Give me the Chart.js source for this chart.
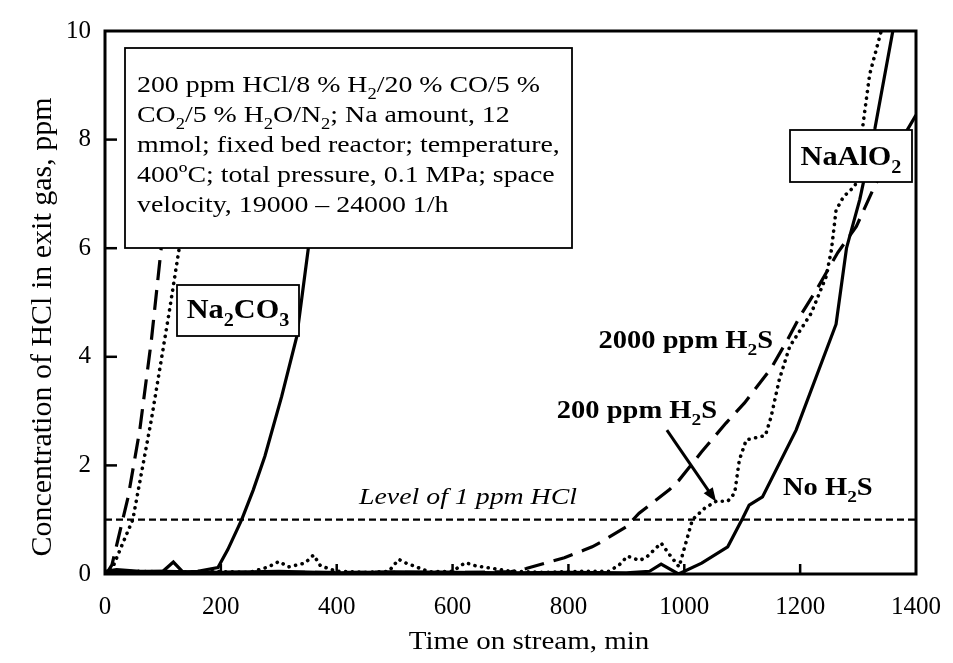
<!DOCTYPE html>
<html><head><meta charset="utf-8">
<script src="https://cdn.jsdelivr.net/npm/chart.js@4.4.0/dist/chart.umd.min.js"></script>
<style>html,body{margin:0;padding:0;background:#fff;}#wrap{width:953px;height:663px;}</style>
</head><body><div id="wrap"><canvas id="c" width="953" height="663"></canvas></div>
<script>
// ---- tick values ----
const xTickValues = [0, 200, 400, 600, 800, 1000, 1200, 1400];
const yTickValues = [0, 2, 4, 6, 8, 10];

// ---- Na2CO3 series ----
const na2co3NoH2S_t = [0, 20, 60, 100, 118, 135, 160, 195, 212, 236, 256, 276, 305, 331, 351, 390];
const na2co3NoH2S_c = [0.05, 0.08, 0.05, 0.05, 0.22, 0.03, 0.05, 0.12, 0.45, 1.0, 1.55, 2.17, 3.27, 4.37, 6.0, 9.2];
const na2co3_200_t = [0, 6, 14, 30, 48, 80, 112, 131, 170];
const na2co3_200_c = [0.02, 0.03, 0.14, 0.55, 1.0, 2.84, 4.9, 6.2, 9.0];
const na2co3_2000_t = [0, 4, 12, 40, 60, 80, 97, 125];
const na2co3_2000_c = [0.02, 0.03, 0.17, 1.42, 2.65, 4.3, 6.0, 9.0];

// ---- NaAlO2 series ----
const naalo2NoH2S_t = [0, 100, 200, 300, 400, 500, 600, 700, 800, 900, 940, 960, 990, 1030, 1075, 1101, 1112, 1135, 1193, 1262, 1280, 1303, 1329, 1360, 1375];
const naalo2NoH2S_c = [0.03, 0.05, 0.03, 0.05, 0.02, 0.04, 0.03, 0.02, 0.03, 0.02, 0.05, 0.18, 0.0, 0.2, 0.5, 1.03, 1.27, 1.42, 2.65, 4.6, 6.0, 6.9, 8.2, 10.0, 10.8];
const naalo2_200_t = [0, 60, 120, 180, 250, 282, 300, 317, 345, 360, 372, 400, 450, 490, 507, 520, 560, 600, 622, 640, 700, 760, 820, 870, 888, 902, 922, 934, 960, 975, 991, 1014, 1035, 1055, 1075, 1087, 1095, 1107, 1140, 1150, 1164, 1182, 1219, 1245, 1254, 1262, 1275, 1295, 1310, 1320, 1340, 1355];
const naalo2_200_c = [0.03, 0.05, 0.03, 0.05, 0.03, 0.13, 0.23, 0.13, 0.2, 0.35, 0.15, 0.05, 0.03, 0.05, 0.27, 0.2, 0.04, 0.05, 0.21, 0.15, 0.05, 0.03, 0.05, 0.05, 0.17, 0.33, 0.25, 0.3, 0.57, 0.35, 0.13, 1.0, 1.21, 1.34, 1.34, 1.49, 2.1, 2.47, 2.55, 2.9, 3.58, 4.19, 4.8, 5.48, 5.97, 6.7, 6.95, 7.15, 8.4, 9.2, 10.0, 10.6];
const naalo2_2000_t = [0, 200, 400, 600, 700, 727, 760, 793, 827, 841, 858, 900, 922, 950, 974, 991, 1030, 1072, 1104, 1150, 1178, 1200, 1228, 1265, 1297, 1331, 1400];
const naalo2_2000_c = [0.03, 0.03, 0.03, 0.03, 0.04, 0.1, 0.2, 0.3, 0.44, 0.5, 0.6, 0.87, 1.12, 1.35, 1.55, 1.73, 2.25, 2.78, 3.15, 3.79, 4.31, 4.75, 5.23, 5.92, 6.4, 7.2, 8.45];

// ---- reference level ----
const levelT = [0, 1400];
const levelC = [1, 1];

// ---- texts ----
const conditionLines = [
  "200 ppm HCl/8 % H_2/20 % CO/5 %",
  "CO_2/5 % H_2O/N_2; Na amount, 12",
  "mmol; fixed bed reactor; temperature,",
  "400ºC; total pressure, 0.1 MPa; space",
  "velocity, 19000 – 24000 1/h"
];
const xTitle = "Time on stream, min";
const yTitle = "Concentration of HCl in exit gas, ppm";

function pts(t, c) { return t.map((v, i) => ({ x: v, y: c[i] })); }

const SERIF = "'Liberation Serif', 'Times New Roman', serif";
const SX = 1.16; // horizontal stretch of the reference lettering
const solid = { borderColor: '#000', borderWidth: 3.2, borderDash: [] };
const dotted = { borderColor: '#000', borderWidth: 3.6, borderDash: [0.1, 6.6], borderCapStyle: 'round' };
const dashed = { borderColor: '#000', borderWidth: 3.2, borderDash: [20, 10] };

function ds(t, c, style) {
  return Object.assign({ data: pts(t, c), showLine: true, pointRadius: 0, tension: 0, fill: false }, style);
}

// rich text with "_x" subscripts; sx = horizontal scale
function drawRich(ctx, str, x, y, size, weight, style, align, sx) {
  sx = sx || 1;
  const segs = [];
  for (let i = 0; i < str.length; i++) {
    if (str[i] === '_' && i + 1 < str.length) { segs.push({ t: str[i + 1], sub: true }); i++; }
    else {
      if (segs.length && !segs[segs.length - 1].sub) segs[segs.length - 1].t += str[i];
      else segs.push({ t: str[i], sub: false });
    }
  }
  const f = (sub) => `${style} ${weight} ${sub ? Math.round(size * 0.68) : size}px ${SERIF}`;
  let w = 0;
  segs.forEach(s => { ctx.font = f(s.sub); s.w = ctx.measureText(s.t).width; w += s.w; });
  const W = w * sx;
  let x0 = align === 'center' ? x - W / 2 : (align === 'right' ? x - W : x);
  ctx.save();
  ctx.translate(x0, y);
  ctx.scale(sx, 1);
  ctx.textBaseline = 'alphabetic';
  ctx.textAlign = 'left';
  let cx = 0;
  segs.forEach(s => {
    ctx.font = f(s.sub);
    ctx.fillText(s.t, cx, s.sub ? size * 0.28 : 0);
    cx += s.w;
  });
  ctx.restore();
  return W;
}

const decor = {
  id: 'decor',
  afterDatasetsDraw(chart) {
    const ctx = chart.ctx, a = chart.chartArea;
    const xs = chart.scales.x, ys = chart.scales.y;
    ctx.save();
    ctx.fillStyle = '#000'; ctx.strokeStyle = '#000';
    // frame
    ctx.lineWidth = 3;
    ctx.strokeRect(a.left, a.top, a.right - a.left, a.bottom - a.top);
    // inward ticks
    ctx.lineWidth = 2.5;
    yTickValues.slice(1, -1).forEach(v => {
      const y = ys.getPixelForValue(v);
      ctx.beginPath(); ctx.moveTo(a.left, y); ctx.lineTo(a.left + 12, y); ctx.stroke();
    });
    xTickValues.slice(1, -1).forEach(v => {
      const x = xs.getPixelForValue(v);
      ctx.beginPath(); ctx.moveTo(x, a.bottom); ctx.lineTo(x, a.bottom - 10); ctx.stroke();
    });
    // condition box
    ctx.lineWidth = 1.8;
    ctx.fillStyle = '#fff';
    ctx.fillRect(125, 48, 447, 200);
    ctx.strokeRect(125, 48, 447, 200);
    ctx.fillStyle = '#000';
    conditionLines.forEach((ln, i) => drawRich(ctx, ln, 137, 92 + i * 30, 24, 'normal', 'normal', 'left', SX));
    // Na2CO3 label box
    ctx.fillStyle = '#fff';
    ctx.fillRect(177, 285, 122, 51);
    ctx.strokeRect(177, 285, 122, 51);
    ctx.fillStyle = '#000';
    drawRich(ctx, 'Na_2CO_3', 238, 318, 27, 'bold', 'normal', 'center', 1.12);
    // NaAlO2 label box
    ctx.fillStyle = '#fff';
    ctx.fillRect(790, 130, 122, 52);
    ctx.strokeRect(790, 130, 122, 52);
    ctx.fillStyle = '#000';
    drawRich(ctx, 'NaAlO_2', 851, 165, 27, 'bold', 'normal', 'center', 1.12);
    // series labels
    drawRich(ctx, '2000 ppm H_2S', 773, 348, 25, 'bold', 'normal', 'right', 1.14);
    drawRich(ctx, '200 ppm H_2S', 717, 418, 25, 'bold', 'normal', 'right', 1.14);
    drawRich(ctx, 'No H_2S', 783, 495, 25, 'bold', 'normal', 'left', 1.14);
    drawRich(ctx, 'Level of 1 ppm HCl', 468, 504, 24, 'normal', 'italic', 'center', SX);
    // arrow
    const x1 = xs.getPixelForValue(970), y1 = ys.getPixelForValue(2.65);
    const x2 = xs.getPixelForValue(1055), y2 = ys.getPixelForValue(1.33);
    const ang = Math.atan2(y2 - y1, x2 - x1);
    ctx.lineWidth = 3;
    ctx.beginPath(); ctx.moveTo(x1, y1);
    ctx.lineTo(x2 - 10 * Math.cos(ang), y2 - 10 * Math.sin(ang)); ctx.stroke();
    ctx.beginPath();
    ctx.moveTo(x2, y2);
    ctx.lineTo(x2 - 14 * Math.cos(ang) + 5.5 * Math.sin(ang), y2 - 14 * Math.sin(ang) - 5.5 * Math.cos(ang));
    ctx.lineTo(x2 - 14 * Math.cos(ang) - 5.5 * Math.sin(ang), y2 - 14 * Math.sin(ang) + 5.5 * Math.cos(ang));
    ctx.closePath(); ctx.fill();
    // axis titles
    drawRich(ctx, xTitle, 529, 649, 25, 'normal', 'normal', 'center', SX);
    ctx.translate(51, 327); ctx.rotate(-Math.PI / 2);
    ctx.font = `30px ${SERIF}`;
    ctx.textAlign = 'center'; ctx.textBaseline = 'alphabetic';
    ctx.fillText(yTitle, 0, 0);
    ctx.restore();
  }
};

new Chart(document.getElementById('c'), {
  type: 'scatter',
  data: {
    datasets: [
      ds(levelT, levelC, { borderColor: '#000', borderWidth: 2.2, borderDash: [7, 4] }),
      ds(na2co3NoH2S_t, na2co3NoH2S_c, solid),
      ds(na2co3_200_t, na2co3_200_c, dotted),
      ds(na2co3_2000_t, na2co3_2000_c, dashed),
      ds(naalo2NoH2S_t, naalo2NoH2S_c, solid),
      ds(naalo2_200_t, naalo2_200_c, dotted),
      ds(naalo2_2000_t, naalo2_2000_c, dashed)
    ]
  },
  options: {
    responsive: false,
    animation: false,
    layout: { padding: { top: 31, right: 37, left: 0, bottom: 0 } },
    plugins: { legend: { display: false }, tooltip: { enabled: false } },
    scales: {
      x: {
        type: 'linear', min: 0, max: 1400,
        afterBuildTicks: s => { s.ticks = xTickValues.map(v => ({ value: v })); },
        afterFit: s => { s.height = 89; },
        grid: { display: false }, border: { display: false },
        ticks: { color: '#000', padding: 10, maxRotation: 0, font: { family: SERIF, size: 25 }, callback: v => String(v) }
      },
      y: {
        min: 0, max: 10,
        afterBuildTicks: s => { s.ticks = yTickValues.map(v => ({ value: v })); },
        afterFit: s => { s.width = 105; },
        grid: { display: false }, border: { display: false },
        ticks: { color: '#000', padding: 6, font: { family: SERIF, size: 25 }, callback: v => String(v) }
      }
    }
  },
  plugins: [decor]
});
</script>
</body></html>
